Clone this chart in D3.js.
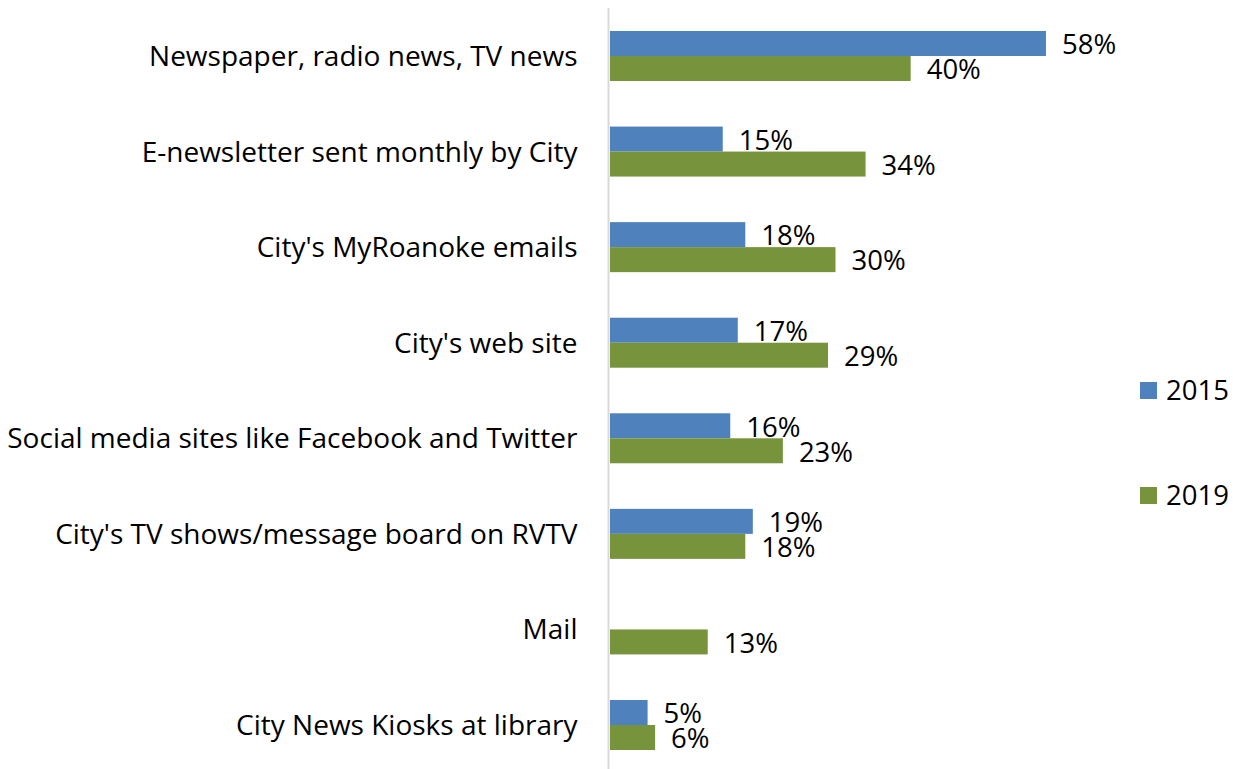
<!DOCTYPE html>
<html><head><meta charset="utf-8">
<script src="https://cdn.jsdelivr.net/npm/d3@7"></script>
<style>body{margin:0;background:#fff;} svg{display:block;} text{font-family:"Open Sans", Lato, sans-serif;}</style>
</head><body><svg id="c" width="1246" height="769"></svg>
<script>
const categories = ["Newspaper, radio news, TV news","E-newsletter sent monthly by City","City's MyRoanoke emails","City's web site","Social media sites like Facebook and Twitter","City's TV shows/message board on RVTV","Mail","City News Kiosks at library"];
const series = ["2015","2019"];
const values2015 = [58,15,18,17,16,19,null,5];
const values2019 = [40,34,30,29,23,18,13,6];
const colors = ["#4F81BD","#77933C"];

const svg = d3.select("#c");
const fs = 27.5;
const catFs = 28;
const x = d3.scaleLinear().domain([0,60]).range([610,1061]);
const y = d3.scaleBand().domain(categories).range([8.2,772.8]).paddingInner(0.477).paddingOuter(0.2385);
const ySub = d3.scaleBand().domain(series).range([0,y.bandwidth()]);

const data = categories.map((c,i)=>({c, vals:[values2015[i],values2019[i]]}));

const g = svg.append("g");
data.forEach(d=>{
  d.vals.forEach((v,j)=>{
    if(v==null) return;
    const yy = y(d.c)+ySub(series[j]);
    g.append("rect").attr("x",x(0)).attr("y",yy).attr("width",x(v)-x(0)).attr("height",ySub.bandwidth()).attr("fill",colors[j]);
    g.append("text").attr("x",x(v)+16).attr("y",yy+ySub.bandwidth()/2+1).attr("dy","0.357em").attr("font-size",fs).attr("fill","#000").text(v+"%");
  });
});

// axis
const axis = d3.axisLeft(y).tickSize(0).tickPadding(31);
const ag = svg.append("g").attr("transform",`translate(608.5,0)`).call(axis);
ag.select(".domain").attr("stroke","#d9d9d9").attr("stroke-width",2).attr("d","M0,8V769");
ag.selectAll("text").attr("font-size",catFs).attr("fill","#000").attr("font-family","'Open Sans', Lato, sans-serif").attr("dy","0.357em");

// legend
const lg = svg.append("g");
series.forEach((s,i)=>{
  const ly = 382 + i*105;
  lg.append("rect").attr("x",1140).attr("y",ly).attr("width",17).attr("height",17).attr("fill",colors[i]);
  lg.append("text").attr("x",1166).attr("y",ly+8.5).attr("dy","0.357em").attr("font-size",fs).attr("fill","#000").text(s);
});
</script></body></html>
